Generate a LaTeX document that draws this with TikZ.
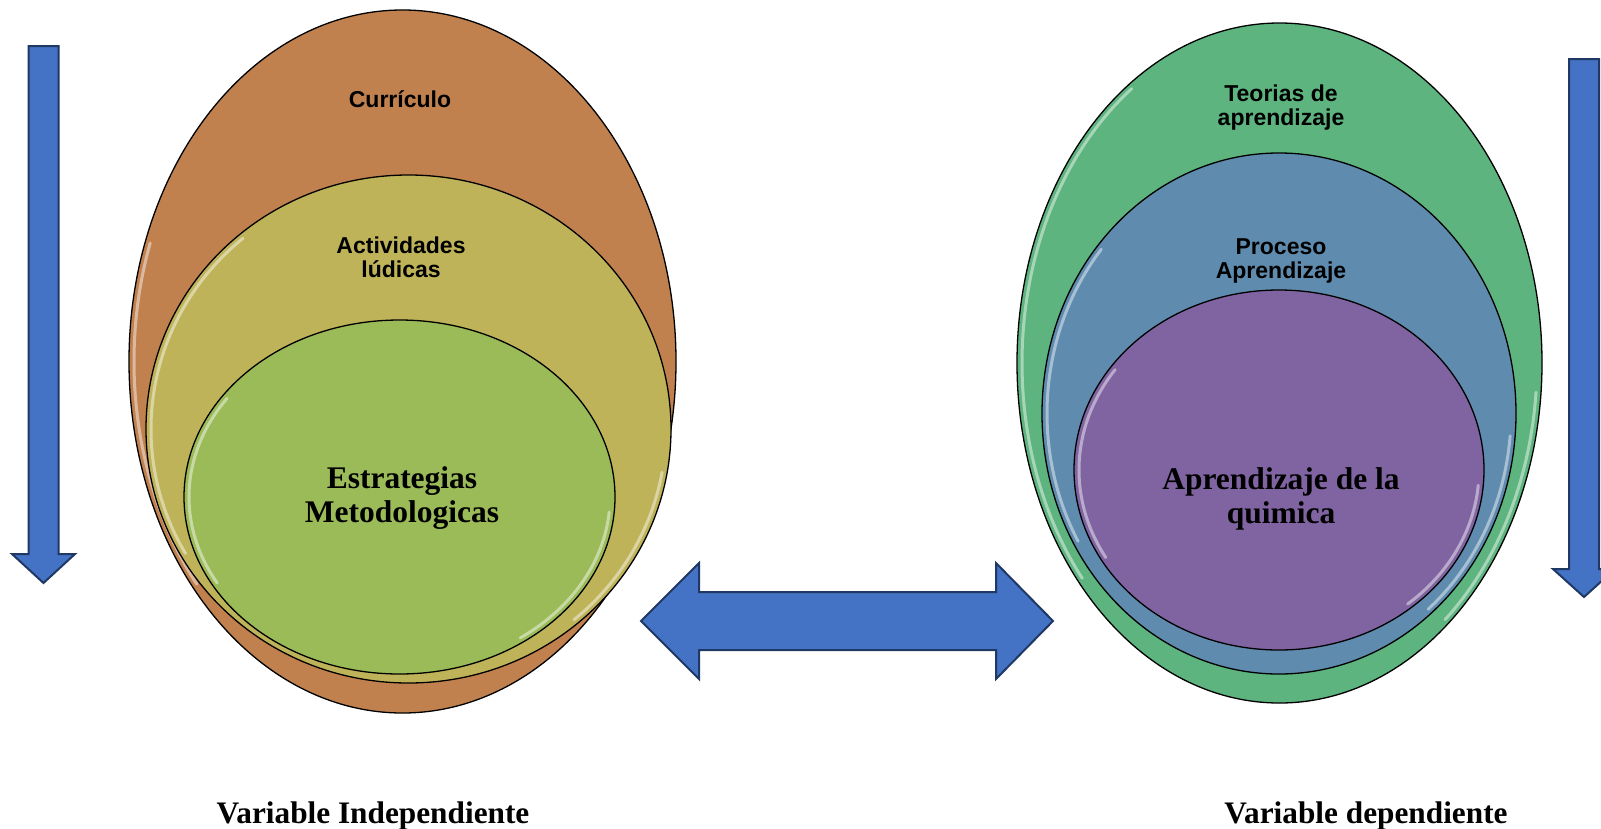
\documentclass[tikz,border=0pt]{standalone}
\usepackage{fontspec}
\setmainfont{Liberation Serif}
\newfontfamily\arialfont{Liberation Sans}
\usetikzlibrary{shapes.geometric}
\definecolor{cbrown}{HTML}{C0814F}
\definecolor{colive}{HTML}{BFB35A}
\definecolor{cgreen}{HTML}{9BBB59}
\definecolor{cmint}{HTML}{5DB47F}
\definecolor{csteel}{HTML}{5F8BAE}
\definecolor{cpurple}{HTML}{8064A2}
\definecolor{arrowblue}{HTML}{4472C4}
\definecolor{arrowline}{HTML}{1F3864}
\begin{document}
\begin{tikzpicture}[x=1pt,y=-1pt,
  ell/.style={ellipse, draw=black, line width=1.3pt, inner sep=0pt},
  glow/.style={white, opacity=0.45, line width=3pt, line cap=round},
  sanslab/.style={font=\arialfont\bfseries\fontsize{23}{24}\selectfont, align=center, text=black, inner sep=0pt},
  seriflab/.style={font=\bfseries\fontsize{31.5}{34.5}\selectfont, align=center, text=black, inner sep=0pt},
  varlab/.style={font=\bfseries\fontsize{31.3}{34}\selectfont, anchor=base, inner sep=0pt},
  bigarrow/.style={fill=arrowblue, draw=arrowline, line width=2pt, line join=miter}]
\useasboundingbox (0,0) rectangle (1601,828);

% left group
\node[ell, fill=cbrown, minimum width=547pt, minimum height=703pt] (e1) at (402.5,361.5) {};
\draw[glow] (402.5,361.5) ++(140:268.5 and 346.5) arc[start angle=140, end angle=200, x radius=268.5, y radius=346.5];
\node[ell, fill=colive, minimum width=525pt, minimum height=508pt] (e2) at (408.5,429) {};
\draw[glow] (408.5,429) ++(150:257.5 and 249) arc[start angle=150, end angle=230, x radius=257.5, y radius=249];
\draw[glow] (408.5,429) ++(10:257.5 and 249) arc[start angle=10, end angle=50, x radius=257.5, y radius=249];
\node[ell, fill=cgreen, minimum width=431pt, minimum height=354pt] (e3) at (399.5,497) {};
\draw[glow] (399.5,497) ++(150:210.5 and 172) arc[start angle=150, end angle=215, x radius=210.5, y radius=172];
\draw[glow] (399.5,497) ++(5:210.5 and 172) arc[start angle=5, end angle=55, x radius=210.5, y radius=172];

\node[sanslab] (t1) at (400,99) {Currículo};
\node[sanslab] (t2) at (401,257) {Actividades\\lúdicas};
\node[seriflab] (t3) at (402,498) {Estrategias\\Metodologicas};

% right group
\node[ell, fill=cmint, minimum width=525pt, minimum height=680pt] (r1) at (1279.5,363) {};
\draw[glow] (1279.5,363) ++(140:257.5 and 335) arc[start angle=140, end angle=235, x radius=257.5, y radius=335];
\draw[glow] (1279.5,363) ++(5:257.5 and 335) arc[start angle=5, end angle=50, x radius=257.5, y radius=335];
\node[ell, fill=csteel, minimum width=474pt, minimum height=521pt] (r2) at (1279,413.5) {};
\draw[glow] (1279,413.5) ++(150:232 and 255.5) arc[start angle=150, end angle=220, x radius=232, y radius=255.5];
\draw[glow] (1279,413.5) ++(5:232 and 255.5) arc[start angle=5, end angle=50, x radius=232, y radius=255.5];
\node[ell, fill=cpurple, minimum width=410pt, minimum height=360pt] (r3) at (1279,470) {};
\draw[glow] (1279,470) ++(150:200 and 175) arc[start angle=150, end angle=215, x radius=200, y radius=175];
\draw[glow] (1279,470) ++(5:200 and 175) arc[start angle=5, end angle=50, x radius=200, y radius=175];

\node[sanslab] (s1) at (1281,108) {Teorias de\\aprendizaje};
\node[sanslab] (s2) at (1281,261) {Proceso\\Aprendizaje};
\node[seriflab] (s3) at (1281,499) {Aprendizaje de la\\quimica};

% arrows
\draw[bigarrow] (28.5,46) -- (58.5,46) -- (58.5,554) -- (75,554) -- (43.5,583) -- (12,554) -- (28.5,554) -- cycle;
\draw[bigarrow] (1569,59) -- (1599,59) -- (1599,569) -- (1615,569) -- (1584,597) -- (1553,569) -- (1569,569) -- cycle;
\draw[bigarrow] (641,621) -- (699,563) -- (699,592) -- (996,592) -- (996,563) -- (1053,621) -- (996,679) -- (996,650) -- (699,650) -- (699,679) -- cycle;

% bottom labels
\node[varlab] (v1) at (373,823) {Variable Independiente};
\node[varlab] (v2) at (1366,823) {Variable dependiente};
\end{tikzpicture}
\end{document}
